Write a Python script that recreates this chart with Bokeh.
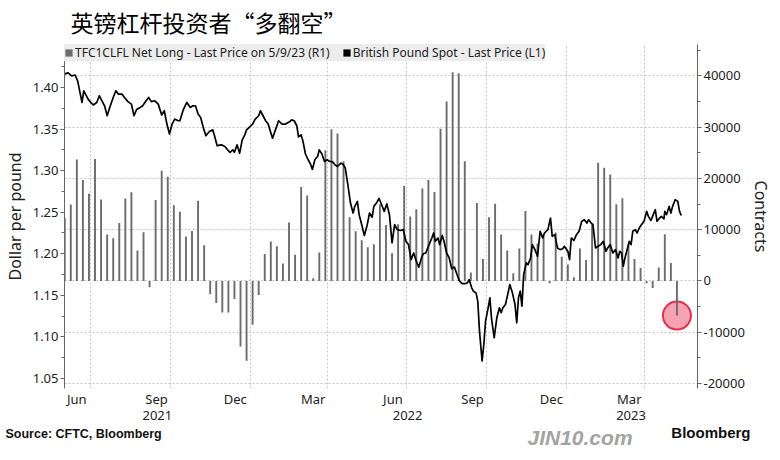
import pandas as pd
from bokeh.plotting import figure
from bokeh.layouts import column
from bokeh.models import (Range1d, LinearAxis, FixedTicker, NumeralTickFormatter, Grid,
                          ColumnDataSource, Legend, LegendItem)
from bokeh.core.properties import value
from bokeh.embed import file_html
from bokeh.resources import INLINE

# ---------------- data ----------------
title_text = "英镑杠杆投资者“多翻空”"
source_text = "Source: CFTC, Bloomberg"
brand_text = "Bloomberg"
watermark_text = "JIN10.com"
bar_label = "TFC1CLFL Net Long - Last Price on 5/9/23 (R1)"
line_label = "British Pound Spot - Last Price (L1)"
left_axis_title = "Dollar per pound"
right_axis_title = "Contracts"

# weekly CFTC leveraged-fund net positions (contracts), Tuesdays from 2021-06-01 to 2023-05-09
net_long_start = "2021-06-01"
net_long = [
    12300, 14900, 23700, 19700, 17000, 23800, 15900, 9060, 8350, 11300,
    16100, 17300, 5950, 9500, -1230, 15800, 21500, 20300, 14750, 13500,
    8670, 9770, 15660, 6990, -2590, -4270, -6150, -6150, -3490, -12750,
    -15530, -8540, -2720, 5240, 7700, 6790, 3430, 11390, 5110, 18310,
    16690, 520, 5560, 25490, 29570, 28730, 23360, 12420, 9700, 7960,
    6600, 7180, 14950, 10930, 5430, 11060, 18500, 12550, 13980, 18050,
    19670, 17340, 29700, 35000, 40700, 40500, 23360, 1680, 15200, 4270,
    12420, 15080, 9060, 5950, 1490, 6340, 13650, 9060, 7310, 8800,
    -450, 9450, 4720, 3240, 710, 6340, 4080, 11000, 23030, 22060,
    20770, 14950, 16110, 7180, 4270, 2520, -450, -1360, 2650, 9120,
    3490, -6730,
]

gbp_dates = [
    "2021-06-01", "2021-06-05", "2021-06-09", "2021-06-13", "2021-06-16", "2021-06-19",
    "2021-06-21", "2021-06-23", "2021-06-25", "2021-06-28", "2021-07-01", "2021-07-04",
    "2021-07-08", "2021-07-11", "2021-07-14", "2021-07-17", "2021-07-20", "2021-07-23",
    "2021-07-27", "2021-07-30", "2021-08-02", "2021-08-06", "2021-08-09", "2021-08-13",
    "2021-08-17", "2021-08-20", "2021-08-23", "2021-08-27", "2021-08-30", "2021-09-03",
    "2021-09-06", "2021-09-09", "2021-09-13", "2021-09-17", "2021-09-21", "2021-09-24",
    "2021-09-27", "2021-09-30", "2021-10-03", "2021-10-06", "2021-10-10", "2021-10-12",
    "2021-10-16", "2021-10-20", "2021-10-24", "2021-10-27", "2021-10-30", "2021-11-02",
    "2021-11-05", "2021-11-08", "2021-11-11", "2021-11-15", "2021-11-19", "2021-11-21",
    "2021-11-24", "2021-11-29", "2021-12-03", "2021-12-06", "2021-12-09", "2021-12-12",
    "2021-12-14", "2021-12-17", "2021-12-20", "2021-12-23", "2021-12-26", "2021-12-28",
    "2022-01-01", "2022-01-04", "2022-01-07", "2022-01-11", "2022-01-13", "2022-01-16",
    "2022-01-19", "2022-01-22", "2022-01-24", "2022-01-27", "2022-01-30", "2022-02-03",
    "2022-02-07", "2022-02-11", "2022-02-16", "2022-02-18", "2022-02-21", "2022-02-24",
    "2022-02-26", "2022-03-01", "2022-03-03", "2022-03-06", "2022-03-09", "2022-03-12",
    "2022-03-14", "2022-03-17", "2022-03-20", "2022-03-22", "2022-03-25", "2022-03-28",
    "2022-03-31", "2022-04-03", "2022-04-06", "2022-04-09", "2022-04-12", "2022-04-16",
    "2022-04-19", "2022-04-21", "2022-04-24", "2022-04-27", "2022-04-30", "2022-05-02",
    "2022-05-05", "2022-05-07", "2022-05-10", "2022-05-13", "2022-05-16", "2022-05-19",
    "2022-05-22", "2022-05-24", "2022-05-27", "2022-05-30", "2022-06-02", "2022-06-05",
    "2022-06-08", "2022-06-11", "2022-06-14", "2022-06-17", "2022-06-20", "2022-06-24",
    "2022-06-27", "2022-06-30", "2022-07-03", "2022-07-06", "2022-07-09", "2022-07-12",
    "2022-07-15", "2022-07-18", "2022-07-20", "2022-07-23", "2022-07-26", "2022-07-30",
    "2022-08-01", "2022-08-03", "2022-08-06", "2022-08-08", "2022-08-11", "2022-08-13",
    "2022-08-16", "2022-08-19", "2022-08-22", "2022-08-25", "2022-08-28", "2022-08-31",
    "2022-09-03", "2022-09-06", "2022-09-09", "2022-09-11", "2022-09-14", "2022-09-16",
    "2022-09-19", "2022-09-21", "2022-09-23", "2022-09-26", "2022-09-28", "2022-09-30",
    "2022-10-03", "2022-10-05", "2022-10-07", "2022-10-10", "2022-10-13", "2022-10-16",
    "2022-10-18", "2022-10-20", "2022-10-23", "2022-10-26", "2022-10-28", "2022-10-31",
    "2022-11-03", "2022-11-05", "2022-11-07", "2022-11-09", "2022-11-11", "2022-11-13",
    "2022-11-16", "2022-11-18", "2022-11-21", "2022-11-23", "2022-11-26", "2022-11-29",
    "2022-12-02", "2022-12-05", "2022-12-07", "2022-12-11", "2022-12-14", "2022-12-16",
    "2022-12-19", "2022-12-22", "2022-12-25", "2022-12-28", "2022-12-30", "2023-01-03",
    "2023-01-05", "2023-01-07", "2023-01-10", "2023-01-13", "2023-01-16", "2023-01-19",
    "2023-01-22", "2023-01-25", "2023-01-27", "2023-01-30", "2023-02-01", "2023-02-04",
    "2023-02-07", "2023-02-10", "2023-02-13", "2023-02-16", "2023-02-18", "2023-02-21",
    "2023-02-24", "2023-02-27", "2023-03-02", "2023-03-04", "2023-03-06", "2023-03-08",
    "2023-03-10", "2023-03-13", "2023-03-15", "2023-03-17", "2023-03-19", "2023-03-22",
    "2023-03-24", "2023-03-27", "2023-03-29", "2023-04-01", "2023-04-04", "2023-04-06",
    "2023-04-09", "2023-04-12", "2023-04-14", "2023-04-16", "2023-04-19", "2023-04-21",
    "2023-04-24", "2023-04-25", "2023-04-27", "2023-04-30", "2023-05-02", "2023-05-04",
    "2023-05-07", "2023-05-10", "2023-05-12", "2023-05-14",
]
gbp_values = [
    1.4164, 1.4176, 1.4140, 1.4150, 1.4076, 1.3920,
    1.3820, 1.3960, 1.3920, 1.3860, 1.3820, 1.3790,
    1.3820, 1.3900, 1.3840, 1.3780, 1.3660, 1.3760,
    1.3880, 1.3960, 1.3920, 1.3920, 1.3880, 1.3830,
    1.3800, 1.3660, 1.3735, 1.3760, 1.3780, 1.3840,
    1.3880, 1.3830, 1.3840, 1.3800, 1.3670, 1.3720,
    1.3560, 1.3440, 1.3560, 1.3620, 1.3600, 1.3600,
    1.3735, 1.3820, 1.3760, 1.3780, 1.3780, 1.3680,
    1.3640, 1.3520, 1.3420, 1.3470, 1.3490, 1.3420,
    1.3300, 1.3310, 1.3290, 1.3250, 1.3220, 1.3250,
    1.3220, 1.3310, 1.3210, 1.3370, 1.3430, 1.3490,
    1.3530, 1.3560, 1.3620, 1.3660, 1.3720, 1.3660,
    1.3600, 1.3560, 1.3490, 1.3390, 1.3480, 1.3600,
    1.3560, 1.3560, 1.3590, 1.3610, 1.3600, 1.3540,
    1.3405, 1.3430, 1.3360, 1.3200, 1.3134, 1.3074,
    1.3014, 1.3134, 1.3170, 1.3250, 1.3200, 1.3110,
    1.3130, 1.3110, 1.3110, 1.3070, 1.3050, 1.3090,
    1.3070, 1.3030, 1.2830, 1.2610, 1.2490, 1.2570,
    1.2630, 1.2470, 1.2350, 1.2220, 1.2330, 1.2490,
    1.2440, 1.2570, 1.2610, 1.2665, 1.2590, 1.2510,
    1.2600, 1.2470, 1.2130, 1.2350, 1.2290, 1.2280,
    1.2290, 1.2150, 1.2110, 1.1930, 1.2010, 1.1910,
    1.1840, 1.1950, 1.2000, 1.2010, 1.2090, 1.2190,
    1.2250, 1.2150, 1.2190, 1.2110, 1.2220, 1.2150,
    1.2010, 1.1950, 1.1820, 1.1840, 1.1750, 1.1670,
    1.1640, 1.1640, 1.1650, 1.1690, 1.1590, 1.1550,
    1.1530, 1.1430, 1.1070, 1.0710, 1.0910, 1.1190,
    1.1350, 1.1470, 1.1210, 1.0990, 1.1230, 1.1350,
    1.1290, 1.1350, 1.1390, 1.1530, 1.1630, 1.1530,
    1.1390, 1.1170, 1.1470, 1.1550, 1.1370, 1.1750,
    1.1890, 1.1870, 1.1950, 1.2110, 1.2050, 1.1970,
    1.2270, 1.2190, 1.2250, 1.2290, 1.2430, 1.2210,
    1.2230, 1.2070, 1.2050, 1.2060, 1.2090, 1.2030,
    1.1930, 1.2190, 1.2160, 1.2230, 1.2270, 1.2390,
    1.2410, 1.2370, 1.2410, 1.2370, 1.2350, 1.2070,
    1.2090, 1.2110, 1.2150, 1.2030, 1.2070, 1.2110,
    1.2010, 1.2050, 1.1950, 1.2030, 1.2010, 1.1850,
    1.1950, 1.2070, 1.2150, 1.2110, 1.2270, 1.2290,
    1.2250, 1.2320, 1.2350, 1.2390, 1.2510, 1.2450,
    1.2400, 1.2480, 1.2530, 1.2390, 1.2430, 1.2450,
    1.2420, 1.2510, 1.2470, 1.2570, 1.2490, 1.2570,
    1.2650, 1.2630, 1.2510, 1.2460,
]

left_ticks = [1.05, 1.10, 1.15, 1.20, 1.25, 1.30, 1.35, 1.40]
right_ticks = [-20000, -10000, 0, 10000, 20000, 30000, 40000]
month_tick_dates = ["2021-06-15", "2021-09-15", "2021-12-15", "2022-03-15",
                    "2022-06-15", "2022-09-15", "2022-12-15", "2023-03-15"]
month_tick_labels = ["Jun", "Sep", "Dec", "Mar", "Jun", "Sep", "Dec", "Mar"]
year_tick_dates = ["2021-09-16", "2022-07-02", "2023-03-17"]
year_tick_labels = ["2021", "2022", "2023"]
grid_dates = ["2021-07-01", "2021-10-01", "2022-01-01", "2022-04-01",
              "2022-07-01", "2022-10-01", "2023-01-01", "2023-04-01"]


def ms(s):
    return int(pd.Timestamp(s).value // 10**6)


DAY = 86400000
bar_x = [ms(d) for d in pd.date_range(net_long_start, periods=len(net_long), freq="7D")]
gbp_x = [ms(d) for d in gbp_dates]

FONT = "Noto Sans"
W = 780
HEADER_H = 44
FOOTER_H = 36
MAIN_H = 460 - HEADER_H - FOOTER_H


def blank_fig(h):
    f = figure(width=W, height=h, output_backend="svg", toolbar_location=None,
               x_axis_type=None, y_axis_type=None,
               x_range=Range1d(0, W), y_range=Range1d(h, 0),
               min_border_left=0, min_border_right=0, min_border_top=0, min_border_bottom=0)
    f.outline_line_color = None
    f.xgrid.visible = False
    f.ygrid.visible = False
    f.background_fill_color = "white"
    f.border_fill_color = "white"
    f.frame_align = False
    return f


# ---------------- header (title) ----------------
header = blank_fig(HEADER_H)
header.text(x=[70], y=[21], text=[title_text], text_font=value("Noto Sans CJK SC"),
            text_font_size="23px", text_color="black", text_baseline="middle", text_align="left")

# ---------------- main chart ----------------
p = figure(width=W, height=MAIN_H, output_backend="svg", toolbar_location=None,
           x_axis_type=None, y_axis_type=None,
           x_range=Range1d(ms("2021-05-31 18:00"), ms("2023-06-01 18:00")),
           y_range=Range1d(1.03797, 1.4517),
           min_border_left=61, min_border_right=83, min_border_top=0, min_border_bottom=MAIN_H - 344)
p.outline_line_color = None
p.background_fill_color = "white"
p.border_fill_color = "white"
p.frame_align = False
p.extra_y_ranges = {"right": Range1d(-20955, 46100)}

grid_style = dict(grid_line_color="#c4c4c4", grid_line_dash="2 2", grid_line_width=1)
p.add_layout(Grid(dimension=0, ticker=FixedTicker(ticks=[ms(d) for d in grid_dates]), **grid_style))
p.add_layout(Grid(dimension=1, ticker=FixedTicker(ticks=right_ticks), y_range_name="right", **grid_style))

# highlight circle at the latest reading
p.scatter(x=[bar_x[-1]], y=[net_long[-1]], size=28, marker="circle",
          fill_color="#f6a2b2", line_color="#e5304a", line_width=2, y_range_name="right")

bar_src = ColumnDataSource(dict(x=bar_x, top=net_long))
bars = p.vbar(x="x", top="top", bottom=0, width=2.2 * DAY, source=bar_src,
              fill_color="#6c6c6c", line_color=None, y_range_name="right")

line_src = ColumnDataSource(dict(x=gbp_x, y=gbp_values))
p.line(x="x", y="y", source=line_src, line_color="black", line_width=1.7, line_join="round")

# legend swatch for the spot-price series (no visible bar)
swatch = p.vbar(x=[gbp_x[0]], top=[float("nan")], bottom=[float("nan")], width=1,
                fill_color="black", line_color=None)

legend = Legend(items=[LegendItem(label=bar_label, renderers=[bars]),
                       LegendItem(label=line_label, renderers=[swatch])],
                location="top_left", orientation="horizontal",
                background_fill_color="#ececec", background_fill_alpha=1,
                border_line_color=None, margin=0, padding=4, spacing=12,
                glyph_width=9, glyph_height=9, label_standoff=2, label_height=16,
                label_text_font_size="12px", label_text_font=FONT, label_text_color="#222222")
p.add_layout(legend)

axis_common = dict(axis_line_color="#666666", major_tick_line_color="#666666",
                   minor_tick_line_color="#666666", major_tick_in=0, major_tick_out=4,
                   minor_tick_in=0, minor_tick_out=3, major_label_standoff=2,
                   major_label_text_font=FONT, major_label_text_font_size="13px",
                   major_label_text_color="#222222",
                   axis_label_text_font=FONT, axis_label_text_font_size="16px",
                   axis_label_text_font_style="normal", axis_label_text_color="#222222")

left_minor = [t + 0.025 for t in left_ticks] + [left_ticks[0] - 0.025]
left_axis = LinearAxis(ticker=FixedTicker(ticks=left_ticks, minor_ticks=left_minor),
                       formatter=NumeralTickFormatter(format="0.00"),
                       axis_label=left_axis_title, axis_label_standoff=4, **axis_common)
p.add_layout(left_axis, "left")

right_minor = [t + 5000 for t in right_ticks]
right_axis = LinearAxis(y_range_name="right",
                        ticker=FixedTicker(ticks=right_ticks, minor_ticks=right_minor),
                        formatter=NumeralTickFormatter(format="0"),
                        axis_label=right_axis_title, axis_label_standoff=2, **axis_common)
p.add_layout(right_axis, "right")

plain_axis = dict(axis_line_color=None, major_tick_line_color=None, minor_tick_line_color=None,
                  major_tick_out=0, major_tick_in=0, minor_tick_out=0, minor_tick_in=0,
                  major_label_text_font=FONT, major_label_text_font_size="13px",
                  major_label_text_color="#222222")

month_ms = [ms(d) for d in month_tick_dates]
month_axis = LinearAxis(ticker=FixedTicker(ticks=month_ms),
                        major_label_overrides={m: l for m, l in zip(month_ms, month_tick_labels)},
                        major_label_standoff=1, **plain_axis)
p.add_layout(month_axis, "below")

year_ms = [ms(d) for d in year_tick_dates]
year_axis = LinearAxis(ticker=FixedTicker(ticks=year_ms),
                       major_label_overrides={m: l for m, l in zip(year_ms, year_tick_labels)},
                       major_label_standoff=0, **plain_axis)
p.add_layout(year_axis, "below")

# ---------------- footer ----------------
footer = blank_fig(FOOTER_H)
footer.text(x=[5], y=[9], text=[source_text], text_font=value("Liberation Sans"),
            text_font_size="12.5px", text_font_style="bold", text_color="#111111",
            text_baseline="middle", text_align="left")
footer.text(x=[527], y=[13], text=[watermark_text], text_font=value("Liberation Sans"),
            text_font_size="21px", text_font_style="bold italic", text_color="#a3a3a3",
            text_baseline="middle", text_align="left")
footer.text(x=[750], y=[8], text=[brand_text], text_font=value("Liberation Sans"),
            text_font_size="15px", text_font_style="bold", text_color="#111111",
            text_baseline="middle", text_align="right")

layout = column(header, p, footer, spacing=0)
open("out.html", "w").write(file_html(layout, INLINE))
